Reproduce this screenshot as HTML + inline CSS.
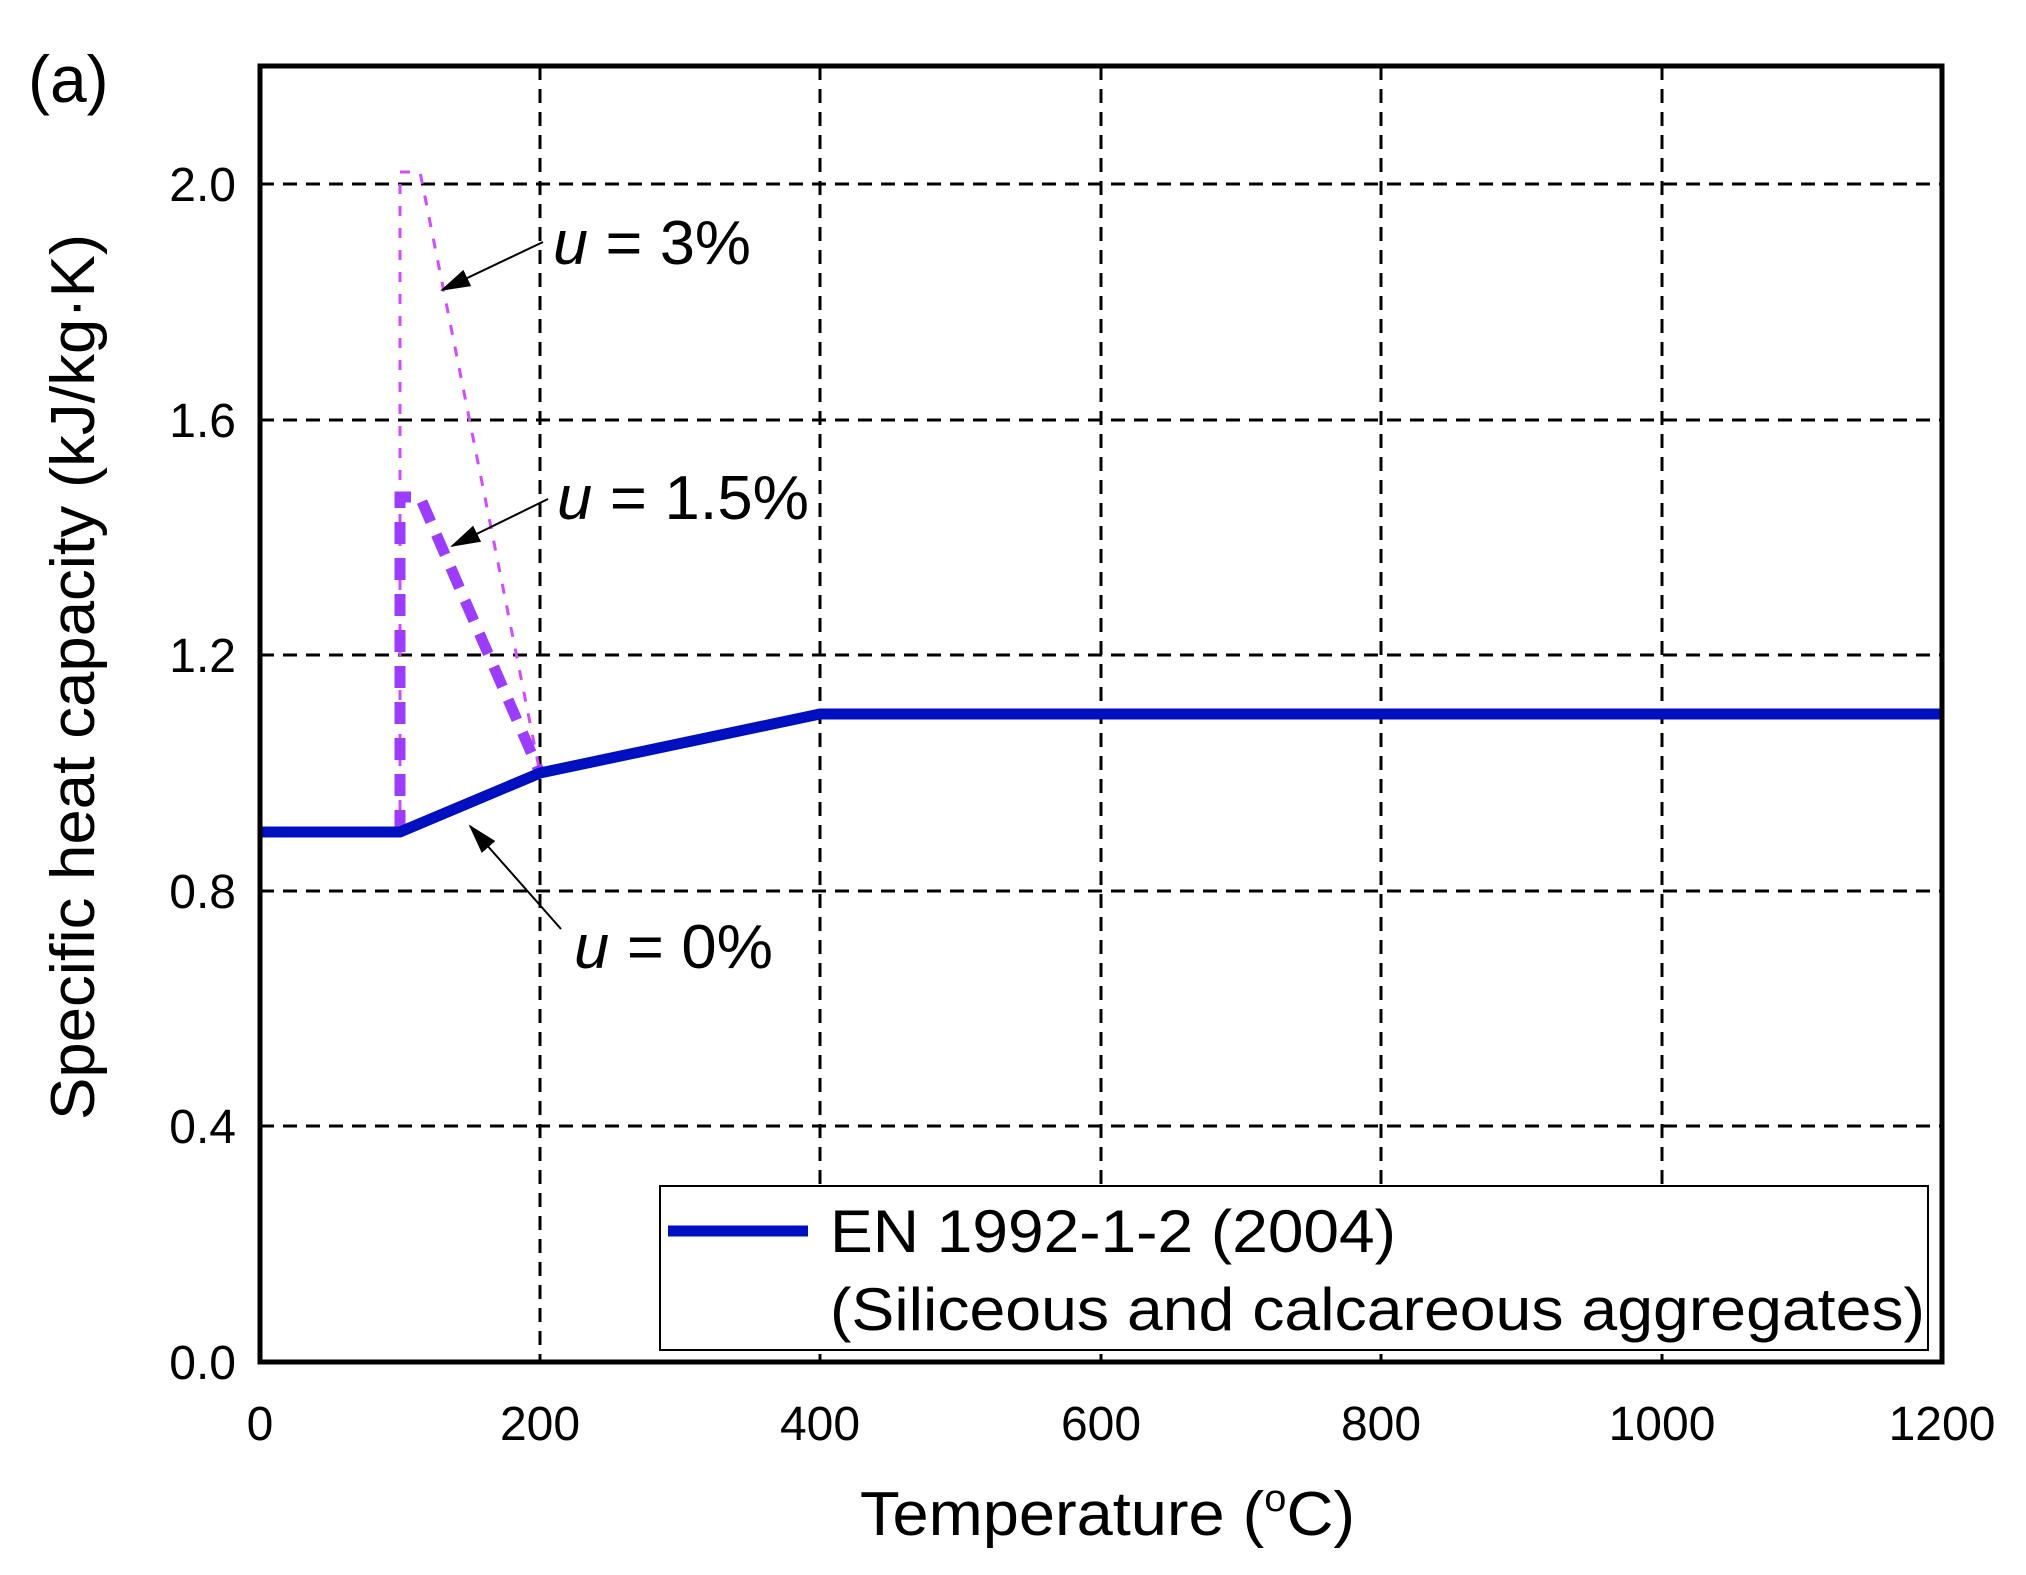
<!DOCTYPE html>
<html><head><meta charset="utf-8"><style>
html,body{margin:0;padding:0;background:#fff;}
svg text{font-family:"Liberation Sans",Arial,sans-serif;fill:#000;}
</style></head><body>
<svg width="2026" height="1570" viewBox="0 0 2026 1570" xmlns="http://www.w3.org/2000/svg">
<defs>
<marker id="ah2" markerWidth="30" markerHeight="18" refX="28" refY="9" orient="auto" markerUnits="userSpaceOnUse" viewBox="0 0 30 18">
<path d="M0,0 L30,9 L0,18 z" fill="#000"/>
</marker>
</defs>
<g stroke="#000" stroke-width="3" stroke-dasharray="14,9" fill="none">
<line x1="540" y1="66" x2="540" y2="1362"/>
<line x1="820" y1="66" x2="820" y2="1362"/>
<line x1="1101" y1="66" x2="1101" y2="1362"/>
<line x1="1381" y1="66" x2="1381" y2="1362"/>
<line x1="1662" y1="66" x2="1662" y2="1362"/>
<line x1="260" y1="184" x2="1942" y2="184"/>
<line x1="260" y1="420" x2="1942" y2="420"/>
<line x1="260" y1="655" x2="1942" y2="655"/>
<line x1="260" y1="891" x2="1942" y2="891"/>
<line x1="260" y1="1126" x2="1942" y2="1126"/>
</g>
<!-- u=3% -->
<polyline points="400,832 400,172 420,172 540,773" fill="none" stroke="#d24bff" stroke-width="3" stroke-dasharray="10,12"/>
<!-- u=1.5% -->
<polyline points="400,832 400,497 420,497 540,773" fill="none" stroke="#9b3cff" stroke-width="11" stroke-dasharray="22,14"/>
<!-- u=0% -->
<polyline points="260,832 400,832 540,773 820,714 1942,714" fill="none" stroke="#0010c0" stroke-width="11"/>
<rect x="260" y="66" width="1682" height="1296" fill="none" stroke="#000" stroke-width="5"/>
<!-- legend -->
<rect x="660" y="1186" width="1268" height="164" fill="#fff" stroke="#000" stroke-width="2"/>
<line x1="668" y1="1231" x2="808" y2="1231" stroke="#0010c0" stroke-width="11"/>
<text x="830" y="1252" font-size="60" textLength="566" lengthAdjust="spacingAndGlyphs">EN 1992-1-2 (2004)</text>
<text x="830" y="1330" font-size="60" textLength="1095" lengthAdjust="spacingAndGlyphs">(Siliceous and calcareous aggregates)</text>
<!-- annotations -->
<line x1="543" y1="242" x2="442" y2="290" stroke="#000" stroke-width="2" marker-end="url(#ah2)"/>
<text x="553" y="264" font-size="62" textLength="198" lengthAdjust="spacingAndGlyphs"><tspan font-style="italic">u</tspan> = 3%</text>
<line x1="548" y1="499" x2="452" y2="546" stroke="#000" stroke-width="2" marker-end="url(#ah2)"/>
<text x="557" y="519" font-size="62" textLength="252" lengthAdjust="spacingAndGlyphs"><tspan font-style="italic">u</tspan> = 1.5%</text>
<line x1="561" y1="929" x2="470" y2="826" stroke="#000" stroke-width="2" marker-end="url(#ah2)"/>
<text x="574" y="968" font-size="62" textLength="199" lengthAdjust="spacingAndGlyphs"><tspan font-style="italic">u</tspan> = 0%</text>
<!-- ticks -->
<g font-size="48" text-anchor="end">
<text x="236" y="201">2.0</text>
<text x="236" y="437">1.6</text>
<text x="236" y="672">1.2</text>
<text x="236" y="908">0.8</text>
<text x="236" y="1143">0.4</text>
<text x="236" y="1379">0.0</text>
</g>
<g font-size="48" text-anchor="middle">
<text x="260" y="1440">0</text>
<text x="540" y="1440">200</text>
<text x="820" y="1440">400</text>
<text x="1101" y="1440">600</text>
<text x="1381" y="1440">800</text>
<text x="1662" y="1440">1000</text>
<text x="1942" y="1440">1200</text>
</g>
<text x="860" y="1535" font-size="62" textLength="495" lengthAdjust="spacingAndGlyphs">Temperature (<tspan font-size="38" dy="-24">o</tspan><tspan dy="24">C)</tspan></text>
<text transform="translate(94,677) rotate(-90)" font-size="62" text-anchor="middle" textLength="886" lengthAdjust="spacingAndGlyphs">Specific heat capacity (kJ/kg·K)</text>
<text x="28" y="102" font-size="66">(a)</text>
</svg>
</body></html>
